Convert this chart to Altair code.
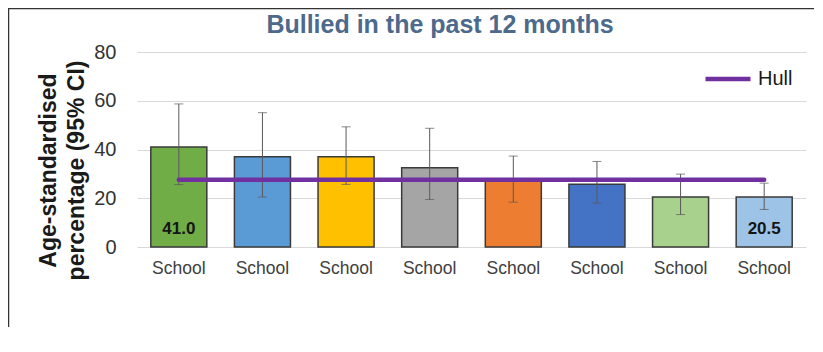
import json
import altair as alt
import pandas as pd

# ---- data ----
chart_title = "Bullied in the past 12 months"
school_ids = ["s1", "s2", "s3", "s4", "s5", "s6", "s7", "s8"]
school_names = ["School", "School", "School", "School", "School", "School", "School", "School"]
values = [41.0, 37.0, 37.0, 32.5, 27.3, 25.7, 20.5, 20.5]
ci_low = [25.6, 20.5, 25.7, 19.5, 18.4, 18.0, 13.3, 15.4]
ci_high = [58.7, 55.1, 49.3, 48.7, 37.3, 35.1, 29.9, 26.2]
value_labels = ["41.0", "", "", "", "", "", "", "20.5"]
hull_value = 27.6
hull_name = "Hull"
y_ticks = [0, 20, 40, 60, 80]

bar_colors = ["#70AD47", "#5B9BD5", "#FFC000", "#A5A5A5",
              "#ED7D31", "#4472C4", "#A9D18E", "#9DC3E6"]

df = pd.DataFrame({
    "school": school_ids,
    "value": values,
    "lo": ci_low,
    "hi": ci_high,
    "label": value_labels,
    "hull": [hull_value] * len(school_ids),
    "series": [hull_name] * len(school_ids),
})

FONT = "Liberation Sans"
label_expr = json.dumps(school_names) + "[indexof(" + json.dumps(school_ids) + ", datum.value)]"

x_enc = alt.X(
    "school:N",
    sort=school_ids,
    scale=alt.Scale(paddingInner=0.33, paddingOuter=0.165),
    axis=alt.Axis(
        title=None, labelAngle=0, ticks=False, domain=False,
        labelExpr=label_expr, labelFont=FONT, labelFontSize=17.5,
        labelColor="#404040", labelPadding=12,
    ),
)

y_scale = alt.Scale(domain=[0, 80], nice=False)

base = alt.Chart(df)

bars = base.mark_bar(stroke="#3A3A3A", strokeWidth=1.5).encode(
    x=x_enc,
    y=alt.Y(
        "value:Q", scale=y_scale,
        axis=alt.Axis(
            values=y_ticks, grid=True, gridColor="#D9D9D9", gridWidth=1,
            domain=False, ticks=False, labelFont=FONT, labelFontSize=20,
            labelColor="#333333", labelPadding=21,
            title=["Age-standardised", "percentage (95% CI)"],
            titleFont=FONT, titleFontSize=23, titleFontWeight="bold",
            titleColor="#1A1A1A", titleAngle=270, titleAlign="center",
            titleBaseline="middle", titleLineHeight=28,
            titleX=-89, titleY=118,
        ),
    ),
    fill=alt.Fill("school:N", scale=alt.Scale(domain=school_ids, range=bar_colors), legend=None),
)

err = base.mark_rule(color="#595959", strokeWidth=1).encode(
    x=alt.X("school:N", sort=school_ids),
    y=alt.Y("lo:Q", scale=y_scale),
    y2="hi:Q",
)

cap_hi = base.mark_tick(color="#595959", thickness=1, size=9, orient="horizontal").encode(
    x=alt.X("school:N", sort=school_ids),
    y=alt.Y("hi:Q", scale=y_scale),
)
cap_lo = base.mark_tick(color="#595959", thickness=1, size=9, orient="horizontal").encode(
    x=alt.X("school:N", sort=school_ids),
    y=alt.Y("lo:Q", scale=y_scale),
)

hull = base.mark_line(strokeWidth=4.5, strokeCap="round").encode(
    x=alt.X("school:N", sort=school_ids),
    y=alt.Y("hull:Q", scale=y_scale),
    stroke=alt.Stroke(
        "series:N",
        scale=alt.Scale(domain=[hull_name], range=["#7030A0"]),
        legend=alt.Legend(
            title=None, orient="none", legendX=566, legendY=2,
            symbolType="stroke", symbolSize=2025, symbolStrokeWidth=4.5,
            labelFont=FONT, labelFontSize=20, labelColor="#1A1A1A",
            labelOffset=5, padding=0,
        ),
    ),
)

labels = base.mark_text(
    font=FONT, fontSize=17, fontWeight="bold", color="#151515",
    baseline="middle", dy=-18,
).encode(
    x=alt.X("school:N", sort=school_ids),
    y=alt.datum(0),
    text="label:N",
)

one = pd.DataFrame({"t": [chart_title]})

title_mark = alt.Chart(one).mark_text(
    font=FONT, fontSize=25, fontWeight="bold", color="#4D6A8C",
    align="center", baseline="alphabetic",
).encode(text="t:N", x=alt.value(303), y=alt.value(-19))

frame = alt.Chart(one).mark_rect(fill="transparent", stroke="#333333", strokeWidth=1.5).encode(
    x=alt.value(-128.5), x2=alt.value(720), y=alt.value(-43.5), y2=alt.value(400)
)

chart = alt.layer(bars, err, cap_hi, cap_lo, hull, labels, title_mark, frame).properties(
    width=669,
    height=195,
    autosize=alt.AutoSizeParams(type="none"),
    padding={"left": 129, "top": 44, "right": 8, "bottom": 80},
    background="white",
).configure_view(stroke=None)

chart.save("out.html", embed_options={"renderer": "svg", "actions": False})
